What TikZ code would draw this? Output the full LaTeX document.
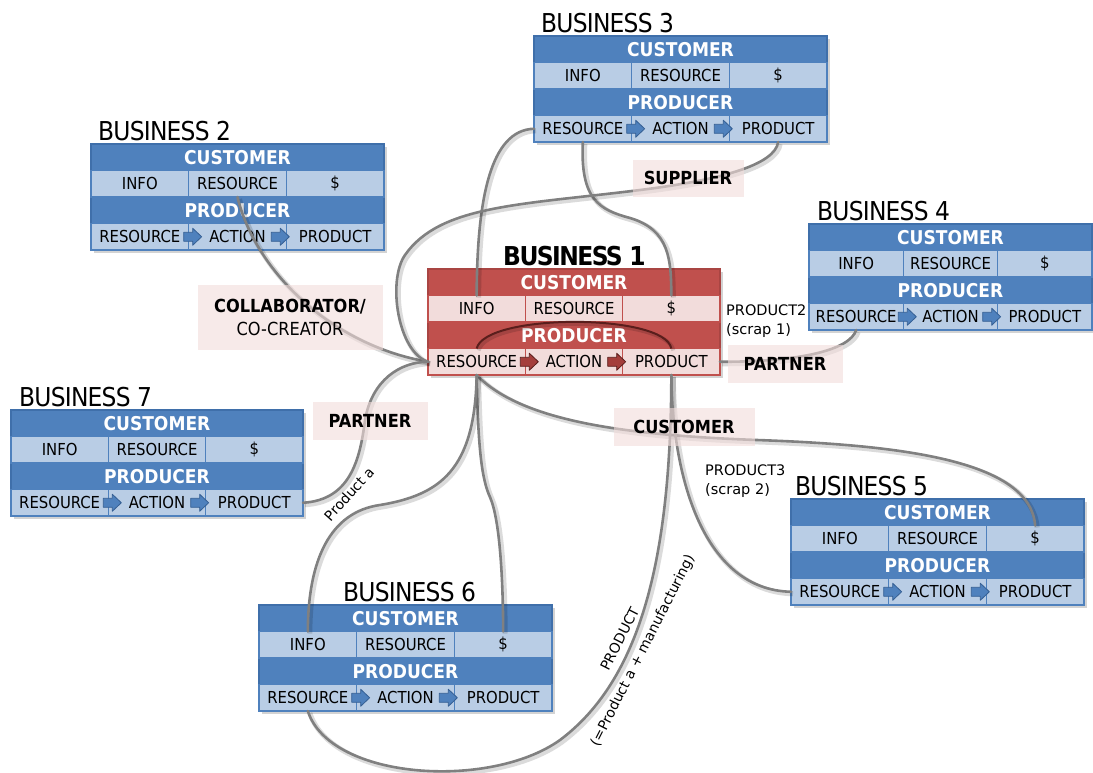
\documentclass[tikz,border=0pt]{standalone}
\usepackage{fontspec}
\setmainfont{DejaVu Sans Condensed}
\newfontfamily\regfont{DejaVu Sans}
\newfontfamily\ttlfont[LetterSpace=-3]{DejaVu Sans Condensed}
\usetikzlibrary{shadows}
\definecolor{bhead}{HTML}{4F81BD}
\definecolor{bcellc}{HTML}{B9CDE5}
\definecolor{bborder}{HTML}{3F6FAA}
\definecolor{barrowc}{HTML}{4F81BD}
\definecolor{barrowd}{HTML}{355F93}
\definecolor{rhead}{HTML}{C0504D}
\definecolor{rcellc}{HTML}{F2DCDB}
\definecolor{rborder}{HTML}{A94543}
\definecolor{rarrowc}{HTML}{A43E3B}
\definecolor{rarrowd}{HTML}{5A1E1C}
\definecolor{lblfill}{HTML}{F2DCDB}
\definecolor{connc}{HTML}{808080}
\newcommand\cellfnt{\fontsize{16.5}{18}\selectfont}
\newcommand\hdrfnt{\fontsize{19}{20}\selectfont\bfseries}
\newcommand\titlefnt{\ttlfont\fontsize{26}{28}\selectfont}
\newcommand\lblfnt{\fontsize{18}{23}\selectfont}
\newcommand\smallfnt{\regfont\fontsize{14.5}{19}\selectfont}
\newcommand\tinyfnt{\regfont\fontsize{14}{25}\selectfont}
\tikzset{
  bouter/.style={fill=bhead, draw=bborder, line width=1.2pt,
    drop shadow={shadow xshift=3pt, shadow yshift=-3pt, opacity=0.35}},
  router/.style={fill=rhead, draw=rborder, line width=1.2pt,
    drop shadow={shadow xshift=3pt, shadow yshift=-3pt, opacity=0.35}},
  bhdr/.style={text=white, font=\hdrfnt, minimum height=26.5pt, inner sep=0pt, outer sep=0pt},
  rhdr/.style={text=white, font=\hdrfnt, minimum height=26.5pt, inner sep=0pt, outer sep=0pt},
  bcell/.style={fill=bcellc, draw=bhead, line width=1.5pt, text=black, font=\cellfnt,
    minimum height=26.5pt, inner sep=0pt, outer sep=0pt},
  rcell/.style={fill=rcellc, draw=rhead, line width=1.5pt, text=black, font=\cellfnt,
    minimum height=26.5pt, inner sep=0pt, outer sep=0pt},
  barrow/.style={fill=barrowc, draw=barrowd, line width=0.8pt, line join=round},
  rarrow/.style={fill=rarrowc, draw=rarrowd, line width=0.8pt, line join=round},
  btitle/.style={font=\titlefnt, anchor=base west, inner sep=0pt},
  rtitle/.style={font=\titlefnt\bfseries\addfontfeature{LetterSpace=-6}, anchor=base west, inner sep=0pt},
  conn/.style={draw=connc, line width=2.6pt, line cap=round,
    preaction={draw=black, draw opacity=0.14, line width=5pt,
      transform canvas={xshift=2pt, yshift=-2pt}}},
  arcconn/.style={draw=rarrowd, line width=2pt,
    preaction={draw=black, draw opacity=0.14, line width=4pt,
      transform canvas={xshift=2pt, yshift=-2pt}}},
  lbl/.style={fill=lblfill, fill opacity=0.6, text opacity=1, font=\lblfnt,
    inner sep=0pt, align=center},
  note/.style={font=\smallfnt, align=left, anchor=west, inner sep=0pt},
  rotnote/.style={font=\tinyfnt, align=center, inner sep=0pt}
}
% block arrow: #1 style, #2 divider point, #3 start offset
\newcommand\blockarrow[3]{%
  \draw[#1, shift={(#2)}, xshift=#3] (0,-4.5) -- (9,-4.5) -- (9,-8.5) -- (18,0) -- (9,8.5) -- (9,4.5) -- (0,4.5) -- cycle;}
% #1 prefix, #2 left, #3 top, #4 width, #5 scheme, #6 title x, #7 title
\newcommand\bizbox[7]{%
  \path[#5outer] (#2,#3) rectangle ++(#4,106);
  \node[#5title] (#1title) at (#6,#3-4) {#7};
  \node[#5hdr, minimum width=#4, anchor=north west] (#1cust) at (#2,#3) {CUSTOMER};
  \node[#5cell, minimum width=#4/3, anchor=north west] (#1info) at (#2,#3+26.5) {INFO};
  \node[#5cell, minimum width=#4/3, anchor=north west] (#1res) at (#2+#4/3,#3+26.5) {RESOURCE};
  \node[#5cell, minimum width=#4/3, anchor=north west] (#1dol) at (#2+2*#4/3,#3+26.5) {\$};
  \node[#5hdr, minimum width=#4, anchor=north west] (#1prodr) at (#2,#3+53) {PRODUCER};
  \node[#5cell, minimum width=#4/3, anchor=north west] (#1r) at (#2,#3+79.5) {RESOURCE};
  \node[#5cell, minimum width=#4/3, anchor=north west] (#1a) at (#2+#4/3,#3+79.5) {ACTION};
  \node[#5cell, minimum width=#4/3, anchor=north west] (#1p) at (#2+2*#4/3,#3+79.5) {PRODUCT};
  \blockarrow{#5arrow}{#1r.east}{-5pt}
  \blockarrow{#5arrow}{#1a.east}{-15pt}
}
\begin{document}
\begin{tikzpicture}[x=1pt, y=-1pt]
\useasboundingbox (0,0) rectangle (1093,772);
% boxes
\bizbox{b3}{534}{36}{293}{b}{541}{BUSINESS 3}
\bizbox{b2}{91}{144}{293}{b}{98}{BUSINESS 2}
\bizbox{b4}{809}{224}{283}{b}{817}{BUSINESS 4}
\bizbox{b7}{11}{410}{292}{b}{19}{BUSINESS 7}
\bizbox{b5}{791}{499}{293}{b}{795}{BUSINESS 5}
\bizbox{b6}{259}{605}{293}{b}{343}{BUSINESS 6}
\bizbox{b1}{428}{269}{292}{r}{503}{BUSINESS 1}
% connectors
\draw[arcconn] (b1r.north) .. controls (485,313) and (665,313) .. (b1p.north);
\draw[conn] (b2res.south) .. controls (255,270) and (330,345) .. (b1r.west);
\draw[conn] (b3r.west) .. controls (490,130) and (477,200) .. (b1info.north);
\draw[conn] (b3r.south) .. controls (580,200) and (600,210) .. (630,218)
   .. controls (670,230) and (671,260) .. (b1dol.north);
\draw[conn] (b3p.south) .. controls (775,165) and (720,180) .. (640,190)
   .. controls (520,205) and (440,205) .. (405,255)
   .. controls (387,281) and (398,352) .. (b1r.west);
\draw[conn] (b1p.east) .. controls (800,362) and (850,350) .. (b4r.south);
\draw[conn] (b1r.south) .. controls (520,420) and (620,435) .. (757,440)
   .. controls (900,445) and (1030,460) .. (b5dol.north);
\draw[conn] (b1p.south) .. controls (671,560) and (640,680) .. (560,740)
   .. controls (490,790) and (330,780) .. (b6r.south);
\draw[conn] (b1p.south) .. controls (672,480) and (705,590) .. (b5r.west);
\draw[conn] (b1r.south) .. controls (478,450) and (482,480) .. (490,497)
   .. controls (500,520) and (503,580) .. (b6dol.north);
\draw[conn] (b1r.south) .. controls (475,470) and (440,495) .. (380,505)
   .. controls (330,512) and (308,560) .. (b6info.north);
\draw[conn] (b7p.east) .. controls (350,500) and (360,460) .. (365,420)
   .. controls (372,380) and (400,362) .. (b1r.west);
% relation labels
\node[lbl, minimum width=111, minimum height=37] (supplier) at (688,178) {\bfseries SUPPLIER};
\node[lbl, minimum width=185, minimum height=65] (collab) at (290,317) {{\bfseries COLLABORATOR/}\\CO-CREATOR};
\node[lbl, minimum width=115, minimum height=38] (partnerL) at (370,421) {\bfseries PARTNER};
\node[lbl, minimum width=115, minimum height=38] (partnerR) at (785,364) {\bfseries PARTNER};
\node[lbl, minimum width=141, minimum height=38] (custlbl) at (684,427) {\bfseries CUSTOMER};
% notes
\node[note] (p2) at (726,321) {PRODUCT2\\(scrap 1)};
\node[note] (p3) at (705,481) {PRODUCT3\\(scrap 2)};
\node[rotnote, rotate=48] (proda) at (349,494) {Product a};
\node[rotnote, rotate=63] (prodm) at (632,645) {PRODUCT\\(=Product a + manufacturing)};
\end{tikzpicture}
\end{document}
